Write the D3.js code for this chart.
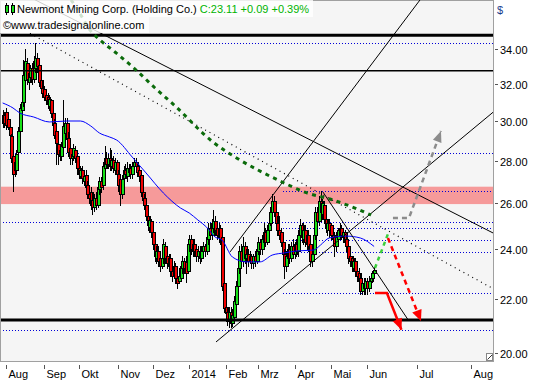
<!DOCTYPE html>
<html><head><meta charset="utf-8">
<script src="https://cdn.jsdelivr.net/npm/d3@7"></script>
<style>
html,body{margin:0;padding:0;background:#fff;}
svg{display:block;font-family:"Liberation Sans",Arial,sans-serif;}
</style></head><body>
<svg id="c" width="540" height="380"></svg>
<script>
// ---------- DATA (daily candles, slot 0 = 30 Jul 2013, slot 215 = 6 Jun 2014) ----------
const open = [29.9,30.3,30.5,30.1,29.7,29.24,28.24,27.94,27.54,28.4,
29.5,30.6,31.0,32.2,33.2,32.1,32.4,32.9,32.3,32.9,
33.5,33.1,32.2,31.8,31.7,31.4,31.3,30.8,31.1,30.4,
29.9,29.5,28.84,28.54,28.24,28.65,29.37,29.87,29.14,28.64,
28.14,28.24,28.54,28.24,27.64,27.24,27.54,27.04,27.32,26.82,
26.42,26.52,26.12,25.82,26.22,25.92,26.62,27.02,26.84,27.64,
28.14,27.84,28.14,27.74,28.04,27.54,27.94,27.34,27.12,26.42,
27.14,27.54,27.24,27.44,27.64,27.34,27.74,27.94,27.74,27.54,
27.32,26.52,26.22,25.92,25.42,24.92,25.2,24.7,24.2,23.6,
23.9,23.6,23.3,23.6,24.1,23.7,23.3,23.6,23.1,22.9,
23.3,22.8,22.7,22.8,23.2,23.5,23.45,23.1,24.2,24.4,
23.9,24.2,24.0,23.7,23.9,23.6,23.9,24.1,23.9,24.4,
24.9,24.6,24.9,25.2,24.9,24.5,24.9,24.5,22.6,21.7,
21.5,21.15,21.5,21.1,21.3,21.8,22.5,23.2,23.9,23.5,
24.1,23.6,23.8,23.5,23.7,23.4,23.7,23.5,23.9,24.3,
24.0,24.3,24.7,24.3,24.8,25.1,25.6,26.1,25.6,25.1,
24.8,24.7,24.3,23.8,23.3,23.6,24.0,23.6,24.1,23.8,
24.2,23.9,24.6,25.0,24.4,24.8,24.2,24.6,24.2,23.5,
23.8,24.6,25.6,25.2,26.1,25.5,25.9,25.3,24.8,25.1,
25.0,24.6,24.5,24.1,24.4,24.6,24.9,24.5,24.7,24.4,
24.1,23.7,23.6,23.2,23.5,23.1,23.0,22.8,22.3,22.6,
22.4,22.7,22.4,22.7,22.8,23.0];
const high = [30.6,30.5,30.7,30.4,29.9,29.34,28.44,28.34,28.54,29.7,
30.9,31.3,33.4,34.0,33.5,32.8,33.1,33.2,33.6,34.35,
33.8,33.3,32.5,32.2,31.9,31.7,31.5,31.4,31.2,30.6,
30.1,29.8,29.14,28.84,28.94,31.1,30.17,30.17,29.44,28.94,
28.54,28.84,28.74,28.44,27.94,27.74,27.74,27.44,27.52,27.02,
26.82,26.72,26.52,26.42,26.52,26.92,27.22,27.22,27.94,28.74,
28.44,28.34,28.64,28.54,28.24,28.14,28.04,27.54,27.32,27.32,
27.74,27.84,27.94,27.84,27.84,27.94,28.14,28.14,27.94,27.74,
27.42,26.72,26.42,26.12,25.62,25.42,25.3,24.9,24.5,24.1,
24.1,23.9,23.8,24.4,24.3,23.9,23.8,23.8,23.4,23.5,
23.4,23.0,23.2,23.5,23.7,23.6,23.7,24.35,24.6,24.6,
24.3,24.4,24.2,24.1,24.1,24.1,24.3,24.2,24.7,25.1,
25.1,25.3,25.7,25.4,25.1,25.1,25.0,24.7,22.8,22.0,
21.7,21.7,21.7,21.6,22.1,22.7,23.4,24.1,24.2,24.5,
24.3,24.0,24.0,23.9,23.8,23.8,23.9,24.2,24.5,24.4,
24.6,25.1,24.9,25.0,25.3,25.8,26.4,26.3,25.8,25.4,
25.4,24.9,24.5,24.0,23.9,24.2,24.2,24.3,24.4,24.3,
24.4,24.8,25.3,25.1,25.1,25.0,24.8,24.8,24.4,24.0,
24.8,25.8,25.8,26.3,26.55,26.2,26.1,25.5,25.3,25.3,
25.1,24.8,24.7,24.7,24.9,25.1,25.0,24.9,24.8,24.6,
24.3,23.9,23.7,23.7,23.6,23.3,23.2,23.0,22.8,22.8,
22.8,22.8,22.9,23.0,23.1,23.25];
const low = [29.7,29.7,29.6,29.6,29.1,27.94,26.54,27.24,27.34,28.2,
29.3,30.2,30.8,31.8,32.0,31.7,32.1,32.0,32.1,32.7,
32.7,31.9,31.5,31.3,31.1,30.9,30.7,30.6,30.2,29.6,
29.1,27.85,27.84,28.04,28.04,28.45,28.97,28.77,28.24,27.84,
27.84,28.04,27.94,27.34,27.14,27.14,26.94,26.84,26.62,26.22,
26.02,25.72,25.52,25.62,25.72,25.82,26.42,26.52,26.64,27.44,
27.64,27.64,27.54,27.54,27.44,27.34,27.14,26.54,25.92,26.22,
26.94,27.14,27.04,27.24,27.14,27.14,27.54,27.54,27.24,27.04,
26.32,25.92,25.72,25.22,24.82,24.72,24.5,24.0,23.5,23.4,
23.3,23.1,23.2,23.4,23.4,23.2,23.1,22.9,22.7,22.8,
22.6,22.4,22.6,22.7,23.0,23.0,22.66,23.0,23.9,23.8,
23.7,23.7,23.5,23.5,23.4,23.5,23.7,23.7,23.8,24.2,
24.4,24.4,24.7,24.6,24.4,24.3,24.2,22.35,21.5,21.3,
21.0,20.95,20.95,20.97,21.2,21.7,22.3,23.0,23.3,23.3,
23.4,23.0,23.3,23.4,23.2,23.2,23.3,23.4,23.8,23.8,
23.8,24.1,24.1,24.2,24.6,25.0,25.4,25.4,24.9,24.6,
24.4,24.1,23.6,22.8,23.1,23.4,23.4,23.5,23.6,23.6,
23.7,23.7,24.4,24.3,24.2,24.1,24.0,23.9,23.3,23.3,
23.7,24.4,25.0,25.0,25.4,25.3,25.1,24.7,24.6,24.5,
24.4,24.2,23.7,23.9,24.2,24.4,24.4,24.3,24.1,23.9,
23.4,23.3,23.1,23.1,22.9,22.7,22.5,22.2,22.2,22.2,
22.2,22.2,22.3,22.5,22.65,22.85];
const close = [30.3,29.9,29.8,29.7,29.3,28.14,27.34,27.54,28.34,29.5,
30.7,31.0,32.5,33.3,32.3,32.6,32.9,32.3,33.3,33.5,
33.0,32.1,31.8,31.5,31.3,31.1,30.9,31.2,30.4,29.8,
29.3,28.85,28.34,28.24,28.74,29.75,29.87,29.07,28.44,28.14,
28.34,28.64,28.14,27.64,27.34,27.54,27.14,27.24,26.72,26.42,
26.22,25.92,25.82,26.22,25.92,26.72,27.02,26.72,27.74,28.14,
27.84,28.14,27.74,28.04,27.64,27.94,27.34,26.84,26.42,27.12,
27.54,27.34,27.64,27.64,27.34,27.74,27.94,27.74,27.44,27.24,
26.52,26.12,25.92,25.42,25.02,25.22,24.7,24.2,23.7,23.9,
23.5,23.3,23.6,24.2,23.6,23.4,23.6,23.1,22.9,23.3,
22.8,22.6,22.9,23.3,23.5,23.2,23.02,24.2,24.4,24.0,
24.2,23.9,23.7,23.9,23.6,23.9,24.1,23.9,24.5,24.9,
24.6,25.1,25.2,24.8,24.6,24.9,24.4,22.5,21.65,21.45,
21.15,21.5,21.1,21.4,21.9,22.5,23.2,23.9,23.5,24.1,
23.6,23.8,23.5,23.7,23.4,23.7,23.5,24.0,24.3,24.0,
24.4,24.7,24.3,24.8,25.1,25.6,26.1,25.6,25.1,24.8,
24.6,24.3,23.8,23.3,23.7,24.0,23.6,24.1,23.8,24.2,
23.9,24.6,25.0,24.5,24.8,24.3,24.6,24.1,23.5,23.8,
24.6,25.6,25.2,26.1,25.6,26.0,25.3,24.9,25.1,24.8,
24.6,24.4,24.1,24.5,24.8,24.9,24.6,24.7,24.3,24.1,
23.6,23.5,23.3,23.5,23.1,22.9,22.7,22.3,22.6,22.4,
22.7,22.4,22.7,22.8,23.02,23.11];

// moving average (slot, value)
const maSlots  = [0,6,10,18,27,37,45,51,56,62,66,75,83,93,103,108,113,118,123,127,133,141,149,156,163,170,180,184,189,199,207,215];
const maValues = [30.96,30.69,30.42,30.21,29.95,30.0,30.0,29.74,29.38,29.17,29.02,28.17,27.40,26.46,25.77,25.55,25.24,24.93,24.50,24.37,23.66,23.46,23.46,23.74,23.83,23.91,23.95,24.16,24.46,24.54,24.46,24.10];

// dark green dashed arc
const arcSlots  = [39.6,42.5,50.6,56.3,65.0,76.6,88.2,99.8,121.7,134.5,147.8,161.7,176.1,189.4,203.9,213.2];
const arcValues = [37.06,36.60,35.16,34.56,33.84,32.85,31.78,30.80,28.92,28.17,27.54,26.97,26.46,26.18,25.77,25.46];

// trend lines [slot, price]
const lineA = [[0,38.15],[285,24.63]];
const lineB = [[15.84,34.96],[283.8,22.39]];
const lineC = [[131.6,23.87],[245.9,37.71]];
const lineD = [[123.5,20.40],[283.8,30.46]];
const lineE = [[185.4,26.50],[234.6,21.21]];

// horizontal levels
const thickLevels = [34.85, 21.2];
const thinLevels = [32.75];
const zone = [25.95, 26.75];
const dottedFull = [34.38, 28.36, 25.16, 20.83];
const dottedPartial = [26.55, 24.89, 24.38, 23.87, 22.22];
const partialStartSlot = 162;

// scenarios [slot, price]
const greenPath = [[215.5,23.21],[223.0,24.63]];
const grayPath  = [[225.9,25.33],[235.2,25.33],[253.7,29.48]];
const redDashed = [[223.0,24.46],[242.1,21.16]];
const redSolid  = [[215.5,22.22],[222.4,22.22],[230.8,20.84]];

// axes
const monthLabels = ["Aug","Sep","Okt","Nov","Dez","2014","Feb","Mrz","Apr","Mai","Jun","Jul","Aug"];
const monthSlots  = [2,24,44,67,87,108,129,148,169,190,211,240,271];
const priceTicks  = [20,22,24,26,28,30,32,34];

const titleName = "Newmont Mining Corp. (Holding Co.)";
const titleQuote = "C:23.11 +0.09 +0.39%";
const sourceText = "\u00A9www.tradesignalonline.com";

// ---------- DRAW ----------
const W = 540, H = 380, PR = 493, PB = 361;
const x = d3.scaleLinear().domain([0, 283.8]).range([2.63, 493]);
const y = d3.scaleLog().domain([20, 34]).range([353.3, 49.3]);
const cr = v => Math.round(v) + 0.5;

const svg = d3.select("#c");
svg.append("rect").attr("width", W).attr("height", H).attr("fill", "#fff");
svg.append("defs").append("clipPath").attr("id", "clip")
  .append("rect").attr("x", 1).attr("y", 0).attr("width", PR - 1).attr("height", PB);
svg.append("rect").attr("x", 0.5).attr("y", 0.5).attr("width", PR).attr("height", PB)
  .attr("fill", "#f5f5f5").attr("stroke", "#a0a0a0");

const g = svg.append("g").attr("clip-path", "url(#clip)");

// zone
g.append("rect").attr("x", 0).attr("width", PR)
  .attr("y", y(zone[1])).attr("height", y(zone[0]) - y(zone[1])).attr("fill", "#f69a9a");

// dotted levels
const dotted = g.append("g").attr("stroke", "#0000d8").attr("stroke-width", 1).attr("stroke-dasharray", "1,2");
dottedFull.forEach(v => dotted.append("line").attr("x1", 0).attr("x2", PR).attr("y1", cr(y(v))).attr("y2", cr(y(v))));
dottedPartial.forEach(v => dotted.append("line").attr("x1", Math.round(x(partialStartSlot))).attr("x2", PR).attr("y1", cr(y(v))).attr("y2", cr(y(v))));

// candles
const cg = g.append("g");
open.forEach((o, i) => {
  const c = close[i];
  const cx = Math.round(x(i));
  cg.append("line").attr("x1", cx + 0.5).attr("x2", cx + 0.5)
    .attr("y1", Math.round(y(high[i]))).attr("y2", Math.round(y(low[i])) + 1)
    .attr("stroke", "#000").attr("stroke-width", 1);
  const t = Math.round(y(Math.max(o, c))) + 0.5;
  let b = Math.round(y(Math.min(o, c))) + 0.5;
  if (b - t < 1) b = t + 1;
  cg.append("rect").attr("x", cx - 0.5).attr("y", t).attr("width", 3).attr("height", b - t)
    .attr("fill", c >= o ? "#18e018" : "#f00000").attr("stroke", "#000").attr("stroke-width", 1);
});

// moving average
g.append("path").datum(maSlots.map((s, i) => [s, maValues[i]]))
  .attr("d", d3.line().x(d => x(d[0])).y(d => y(d[1])).curve(d3.curveMonotoneX))
  .attr("fill", "none").attr("stroke", "#0000ff").attr("stroke-width", 1);

// trend lines
const seg = (pts, stroke, w, dash) => g.append("line")
  .attr("x1", x(pts[0][0])).attr("y1", y(pts[0][1])).attr("x2", x(pts[1][0])).attr("y2", y(pts[1][1]))
  .attr("stroke", stroke).attr("stroke-width", w).attr("stroke-dasharray", dash || null);
seg(lineA, "#000", 1);
seg(lineB, "#000", 1.2, "1,4");
seg(lineC, "#000", 1);
seg(lineD, "#000", 1);
seg(lineE, "#000", 1);

// horizontal solid levels
thickLevels.forEach(v => g.append("line").attr("x1", 0).attr("x2", PR).attr("y1", y(v)).attr("y2", y(v)).attr("stroke", "#000").attr("stroke-width", 3));
thinLevels.forEach(v => g.append("line").attr("x1", 0).attr("x2", PR).attr("y1", y(v)).attr("y2", y(v)).attr("stroke", "#000").attr("stroke-width", 1.3));

// dark green arc
g.append("path").datum(arcSlots.map((s, i) => [s, arcValues[i]]))
  .attr("d", d3.line().x(d => x(d[0])).y(d => y(d[1])).curve(d3.curveMonotoneX))
  .attr("fill", "none").attr("stroke", "#0b6b0b").attr("stroke-width", 3).attr("stroke-dasharray", "4,4.5");

// scenario paths
const pathGen = d3.line().x(d => x(d[0])).y(d => y(d[1]));
function arrowHead(pts, color, len, half) {
  const a = pts[pts.length - 2], b = pts[pts.length - 1];
  const x0 = x(a[0]), y0 = y(a[1]), x1 = x(b[0]), y1 = y(b[1]);
  const dx = x1 - x0, dy = y1 - y0, L = Math.hypot(dx, dy), ux = dx / L, uy = dy / L;
  const bx = x1 - ux * len, by = y1 - uy * len;
  g.append("path").attr("d", `M${x1},${y1}L${bx - uy * half},${by + ux * half}L${bx + uy * half},${by - ux * half}Z`).attr("fill", color);
}
g.append("path").datum(greenPath).attr("d", pathGen).attr("fill", "none").attr("stroke", "#3ccf3c").attr("stroke-width", 2.5).attr("stroke-dasharray", "4,4");
g.append("path").datum(grayPath).attr("d", pathGen).attr("fill", "none").attr("stroke", "#8c8c8c").attr("stroke-width", 2.5).attr("stroke-dasharray", "5,4");
arrowHead(grayPath, "#8c8c8c", 11, 4.5);
g.append("path").datum(redDashed).attr("d", pathGen).attr("fill", "none").attr("stroke", "#ff0000").attr("stroke-width", 2.5).attr("stroke-dasharray", "5,4");
arrowHead(redDashed, "#ff0000", 11, 5);
g.append("path").datum(redSolid).attr("d", pathGen).attr("fill", "none").attr("stroke", "#ff0000").attr("stroke-width", 2.5);
arrowHead(redSolid, "#ff0000", 11, 5);

// resize icon bottom-right
svg.append("rect").attr("x", 486.5).attr("y", 353.5).attr("width", 6).attr("height", 7).attr("fill", "#fff").attr("stroke", "#888");
svg.append("line").attr("x1", 487.5).attr("y1", 359.5).attr("x2", 492).attr("y2", 355).attr("stroke", "#333");

// right axis
const ax = svg.append("g");
ax.append("line").attr("x1", PR + 0.5).attr("x2", PR + 0.5).attr("y1", 0).attr("y2", PB + 1).attr("stroke", "#a0a0a0");
priceTicks.forEach(v => {
  const yy = cr(y(v));
  ax.append("line").attr("x1", PR + 2).attr("x2", PR + 5).attr("y1", yy).attr("y2", yy).attr("stroke", "#555");
  ax.append("text").attr("x", PR + 7).attr("y", yy + 4).attr("font-size", 11).attr("fill", "#000").text(d3.format(".2f")(v));
});
ax.append("text").attr("x", 497).attr("y", 14).attr("font-size", 11).attr("fill", "#1a3c8c").text("$");

// bottom axis
monthSlots.forEach((s, i) => {
  const xx = cr(x(s));
  ax.append("line").attr("x1", xx).attr("x2", xx).attr("y1", 365).attr("y2", 369).attr("stroke", "#555");
  ax.append("text").attr("x", xx + 2).attr("y", 378).attr("font-size", 11).attr("fill", "#000").text(monthLabels[i]);
});

// title boxes
svg.append("rect").attr("x", 0).attr("y", 0).attr("width", 313).attr("height", 17).attr("fill", "#fff").attr("opacity", 0.8);
svg.append("rect").attr("x", 0).attr("y", 17).attr("width", 149).attr("height", 16).attr("fill", "#fff").attr("opacity", 0.8);
const ic = svg.append("g");
ic.append("line").attr("x1", 6.5).attr("x2", 6.5).attr("y1", 3).attr("y2", 15).attr("stroke", "#000");
ic.append("rect").attr("x", 5.5).attr("y", 5.5).attr("width", 3).attr("height", 7).attr("fill", "#18e018").attr("stroke", "#000");
ic.append("line").attr("x1", 12.5).attr("x2", 12.5).attr("y1", 3).attr("y2", 15).attr("stroke", "#000");
ic.append("rect").attr("x", 11.5).attr("y", 5.5).attr("width", 3).attr("height", 7).attr("fill", "#18e018").attr("stroke", "#000");
const tt = svg.append("text").attr("x", 17).attr("y", 13).attr("font-size", 11).attr("fill", "#000");
tt.append("tspan").text(titleName + " ");
tt.append("tspan").attr("fill", "#00b400").text(titleQuote);
svg.append("text").attr("x", 3).attr("y", 29).attr("font-size", 11).attr("fill", "#000").text(sourceText);
</script>
</body></html>
